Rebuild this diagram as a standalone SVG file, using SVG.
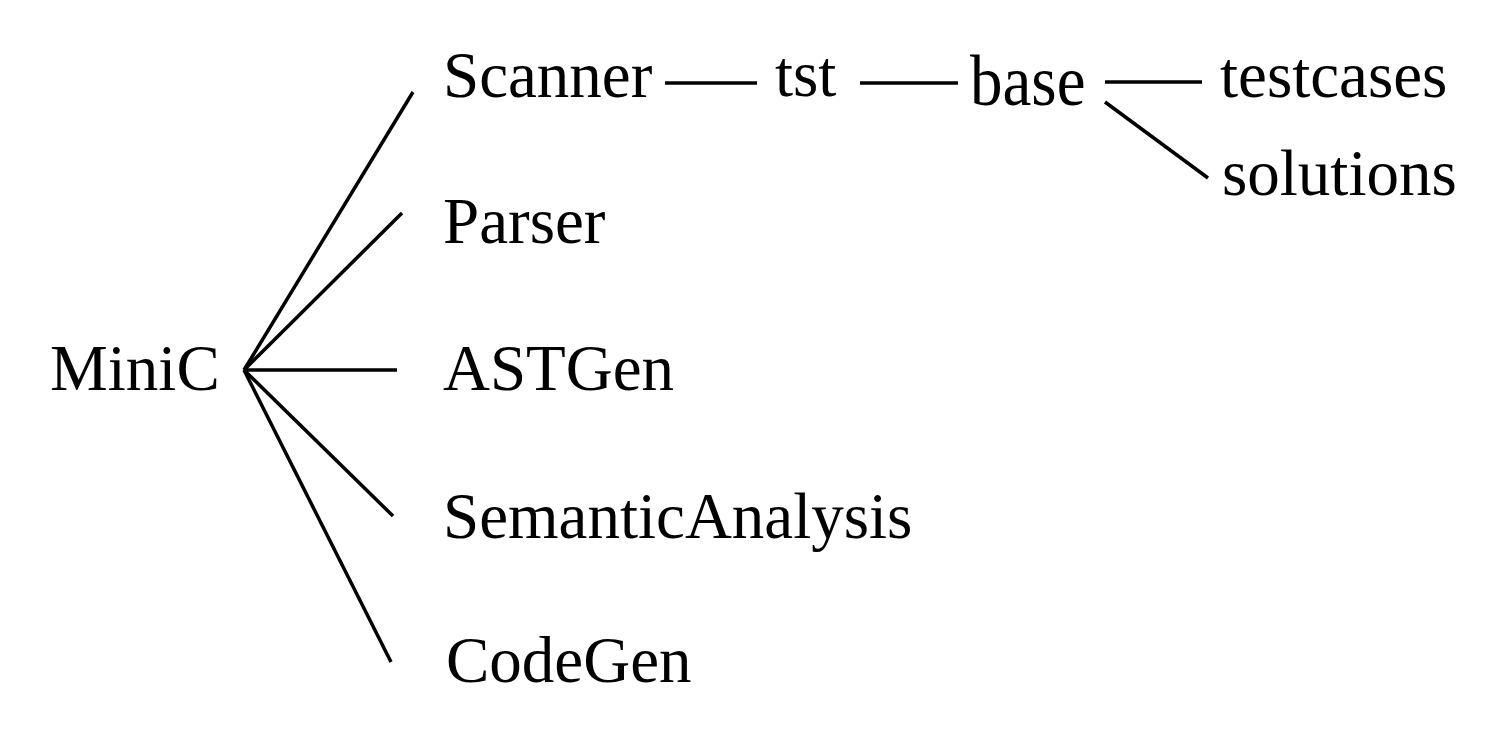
<svg xmlns="http://www.w3.org/2000/svg" width="1492" height="754" viewBox="0 0 1492 754">
<style>
  .t { font-family: "Liberation Serif", "Times New Roman", serif; font-size: 65px; fill: #000; }
  .c line { stroke: #000; stroke-width: 3.5; stroke-linecap: butt; }
</style>
<rect width="1492" height="754" fill="#fff"/>
<g id="connectors" class="c">
  <line x1="244" y1="370" x2="413" y2="92"/>
  <line x1="244" y1="370" x2="402" y2="213"/>
  <line x1="244" y1="370" x2="397" y2="370"/>
  <line x1="244" y1="370" x2="393" y2="516"/>
  <line x1="244" y1="370" x2="391" y2="662"/>
  <line x1="665" y1="83" x2="757" y2="83"/>
  <line x1="860" y1="83" x2="958" y2="83"/>
  <line x1="1105" y1="82" x2="1202" y2="82"/>
  <line x1="1105" y1="102" x2="1208" y2="178"/>
</g>
<g id="node-minic"><text class="t" x="50" y="390">MiniC</text></g>
<g id="node-scanner"><text class="t" x="443" y="97">Scanner</text></g>
<g id="node-tst"><text class="t" x="775" y="96">tst</text></g>
<g id="node-base"><text class="t" x="970" y="0" transform="translate(0,105) scale(1,1.12)">base</text></g>
<g id="node-testcases"><text class="t" x="1220" y="97">testcases</text></g>
<g id="node-solutions"><text class="t" x="1222" y="195">solutions</text></g>
<g id="node-parser"><text class="t" x="443" y="243">Parser</text></g>
<g id="node-astgen"><text class="t" x="443" y="390">ASTGen</text></g>
<g id="node-semantic"><text class="t" x="443" y="538">SemanticAnalysis</text></g>
<g id="node-codegen"><text class="t" x="446" y="682">CodeGen</text></g>
</svg>
